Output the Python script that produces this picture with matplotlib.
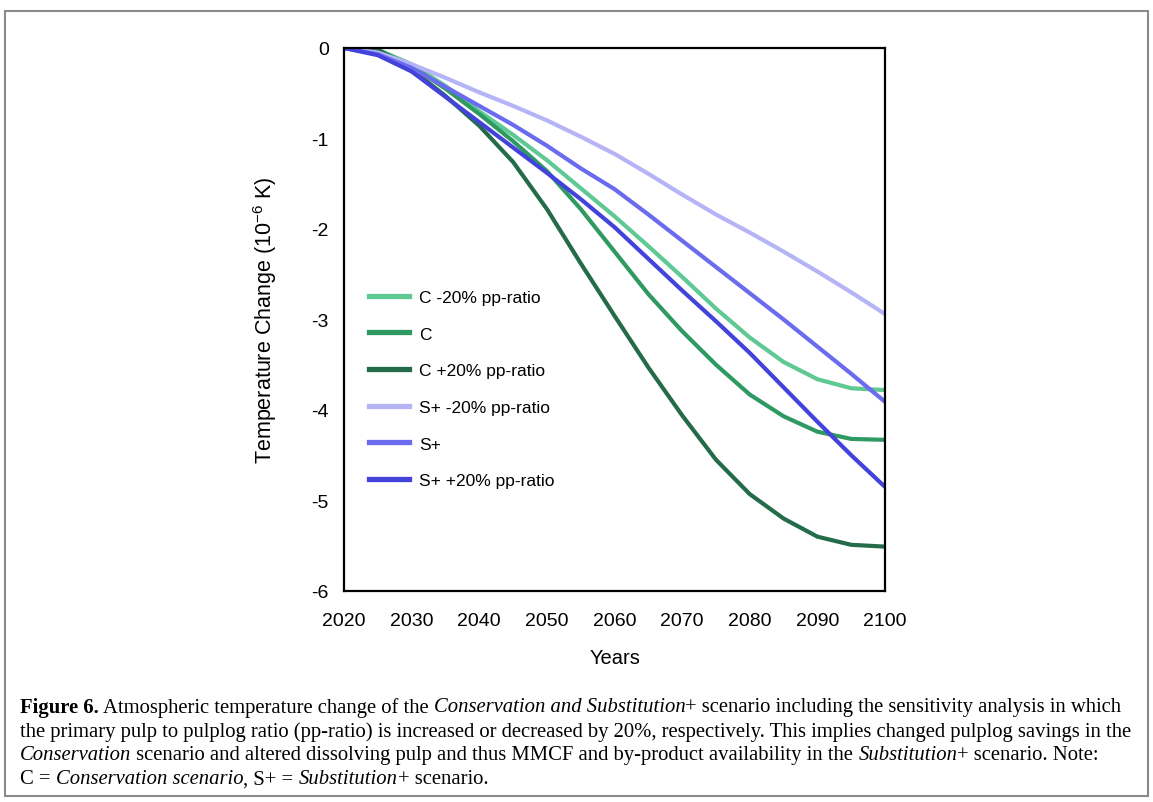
import numpy as np
import matplotlib
matplotlib.use("Agg")
import matplotlib.pyplot as plt
from matplotlib.patches import Rectangle

plt.rcParams['font.family'] = ['Liberation Sans', 'DejaVu Sans']
plt.rcParams['axes.unicode_minus'] = False

# data (10^-6 K)
years = [2020, 2025, 2030, 2035, 2040, 2045, 2050, 2055, 2060,
         2065, 2070, 2075, 2080, 2085, 2090, 2095, 2100]
c_minus = [0, -0.02, -0.18, -0.42, -0.70, -0.96, -1.24, -1.55, -1.86,
           -2.19, -2.53, -2.88, -3.20, -3.47, -3.66, -3.76, -3.78]
c_base = [0, -0.02, -0.20, -0.45, -0.73, -1.03, -1.36, -1.78, -2.25,
          -2.72, -3.13, -3.50, -3.83, -4.07, -4.24, -4.32, -4.33]
c_plus = [0, -0.02, -0.24, -0.53, -0.86, -1.26, -1.78, -2.38, -2.96,
          -3.53, -4.06, -4.55, -4.93, -5.20, -5.40, -5.49, -5.51]
s_minus = [0, -0.05, -0.18, -0.33, -0.49, -0.64, -0.80, -0.98, -1.17,
           -1.39, -1.62, -1.84, -2.04, -2.25, -2.47, -2.70, -2.94]
s_base = [0, -0.07, -0.22, -0.43, -0.64, -0.85, -1.08, -1.33, -1.56,
          -1.84, -2.13, -2.42, -2.71, -3.00, -3.30, -3.60, -3.91]
s_plus = [0, -0.08, -0.26, -0.54, -0.82, -1.10, -1.38, -1.67, -1.98,
          -2.33, -2.68, -3.02, -3.37, -3.75, -4.13, -4.50, -4.85]

labels = ['C -20% pp-ratio', 'C', 'C +20% pp-ratio',
          'S+ -20% pp-ratio', 'S+', 'S+ +20% pp-ratio']
series = [c_minus, c_base, c_plus, s_minus, s_base, s_plus]
colors = ['#5ec993', '#2e9a62', '#246b49', '#b4b4f6', '#6b6bef', '#4343dc']

fig = plt.figure(figsize=(11.53, 8.03), dpi=100)
ax = fig.add_axes([0.2984, 0.2628, 0.4692, 0.6762])

for vals, lab, col in zip(series, labels, colors):
    ax.plot(years, vals, color=col, lw=3, label=lab, solid_joinstyle='round')

ax.set_xlim(2020, 2100)
ax.set_ylim(-6, 0)
ax.set_xticks(range(2020, 2101, 10))
ax.set_yticks(range(-6, 1))
ax.set_yticklabels([str(v) for v in range(-6, 1)])
ax.tick_params(axis='both', length=0, labelsize=14)
ax.tick_params(axis='y', pad=11)
ax.tick_params(axis='x', pad=15)
for sp in ax.spines.values():
    sp.set_linewidth(1.6)
    sp.set_color('black')

ax.set_xlabel('Years', fontsize=14.5, labelpad=14)
ax.set_ylabel('Temperature Change (10$^{\\mathregular{-6}}$ K)', fontsize=15.5, labelpad=23)

leg = ax.legend(loc='upper left', bbox_to_anchor=(0.32, 0.638), bbox_transform=fig.transFigure,
                frameon=False, fontsize=12.5, handlelength=2.3, handletextpad=0.6,
                labelspacing=1.24, borderpad=0, borderaxespad=0)
for ln in leg.get_lines():
    ln.set_linewidth(3.8)

# outer frame
fig.patches.append(Rectangle((0.004, 0.008), 0.992, 0.977, transform=fig.transFigure,
                             fill=False, edgecolor='#8a8a8a', lw=1.5))

# caption with mixed styles
cap_font = ['Liberation Serif', 'DejaVu Serif']
cap_lines = [
    [("Figure 6.", 'bold', 'normal'), (" Atmospheric temperature change of the ", 'normal', 'normal'),
     ("Conservation and Substitution", 'normal', 'italic'),
     ("+ scenario including the sensitivity analysis in which", 'normal', 'normal')],
    [("the primary pulp to pulplog ratio (pp-ratio) is increased or decreased by 20%, respectively. "
      "This implies changed pulplog savings in the", 'normal', 'normal')],
    [("Conservation", 'normal', 'italic'),
     (" scenario and altered dissolving pulp and thus MMCF and by-product availability in the ", 'normal', 'normal'),
     ("Substitution", 'normal', 'italic'), ("+ scenario. Note:", 'normal', 'normal')],
    [("C = ", 'normal', 'normal'), ("Conservation scenario", 'normal', 'italic'),
     (", S+ = ", 'normal', 'normal'), ("Substitution", 'normal', 'italic'),
     ("+ scenario.", 'normal', 'normal')],
]
cap_y = [708, 732, 756, 780]

renderer = fig.canvas.get_renderer()


def seg_width(s, w, st, size):
    # width including spaces, measured with a guard character
    t1 = fig.text(0, 0, s + '|', family=cap_font, fontsize=size, fontweight=w, fontstyle=st)
    t2 = fig.text(0, 0, '|', family=cap_font, fontsize=size, fontweight=w, fontstyle=st)
    wd = t1.get_window_extent(renderer).width - t2.get_window_extent(renderer).width
    t1.remove()
    t2.remove()
    return wd


cap_size = 14.9
x0 = 20
for parts, yy in zip(cap_lines, cap_y):
    x = x0
    for s, w, st in parts:
        fig.text(x / 1153, 1 - yy / 803, s, family=cap_font, fontsize=cap_size,
                 fontweight=w, fontstyle=st, va='center', ha='left')
        x += seg_width(s, w, st, cap_size)

fig.savefig('out.png', dpi=100)
